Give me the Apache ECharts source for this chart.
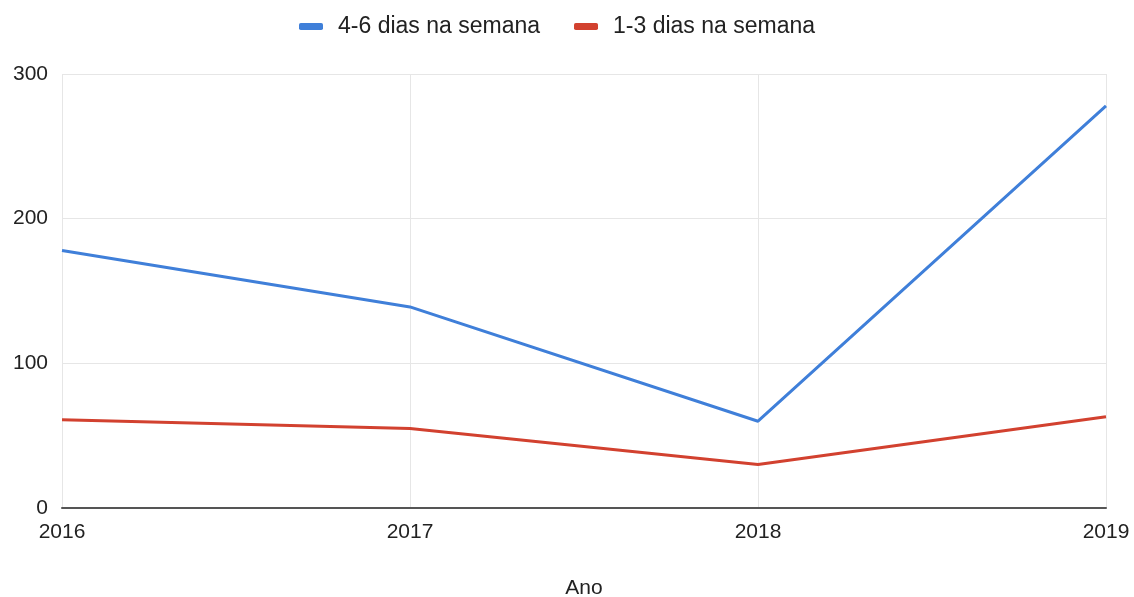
<!DOCTYPE html>
<html>
<head>
<meta charset="utf-8">
<script src="https://cdn.jsdelivr.net/npm/echarts@6/dist/echarts.min.js"></script>
<style>
html, body { margin: 0; padding: 0; background: #fff; }
#chartmain { width: 1134px; height: 597px; }
</style>
</head>
<body>
<div id="chartmain"></div>
<script>
var anos = ['2016', '2017', '2018', '2019'];
var dias46 = [178, 139, 60, 278];
var dias13 = [61, 55, 30, 63];
var yTicks = [0, 100, 200, 300];

var myChart = echarts.init(document.getElementById('chartmain'));

var option = {
    animation: false,
    color: ['#3f7fd9', '#d2412f'],
    textStyle: { fontFamily: 'Liberation Sans, Arial, sans-serif' },
    legend: {
        top: 10,
        left: 294,
        itemWidth: 24,
        itemHeight: 7,
        itemGap: 34,
        icon: 'roundRect',
        textStyle: { fontSize: 23, color: '#222', padding: [0, 0, 0, 10] },
        data: ['4-6 dias na semana', '1-3 dias na semana']
    },
    grid: {
        top: 74,
        bottom: 89,
        left: 62,
        right: 28,
        outerBoundsMode: 'none'
    },
    xAxis: {
        type: 'category',
        boundaryGap: false,
        data: anos,
        name: 'Ano',
        nameLocation: 'middle',
        nameGap: 70,
        nameTextStyle: { fontSize: 21, color: '#222' },
        axisLine: { lineStyle: { color: '#555', width: 2 } },
        axisTick: { show: false },
        axisLabel: { fontSize: 21, color: '#222', margin: 14 },
        splitLine: { show: true, lineStyle: { color: '#e6e6e6' } }
    },
    yAxis: {
        type: 'value',
        min: yTicks[0],
        max: yTicks[yTicks.length - 1],
        interval: 100,
        axisLine: { show: false },
        axisTick: { show: false },
        axisLabel: { fontSize: 21, color: '#222', margin: 14 },
        splitLine: { lineStyle: { color: '#e6e6e6' } }
    },
    series: [
        {
            name: '4-6 dias na semana',
            type: 'line',
            data: dias46,
            symbol: 'none',
            lineStyle: { width: 3 }
        },
        {
            name: '1-3 dias na semana',
            type: 'line',
            data: dias13,
            symbol: 'none',
            lineStyle: { width: 3 }
        }
    ]
};

myChart.setOption(option);
</script>
</body>
</html>
